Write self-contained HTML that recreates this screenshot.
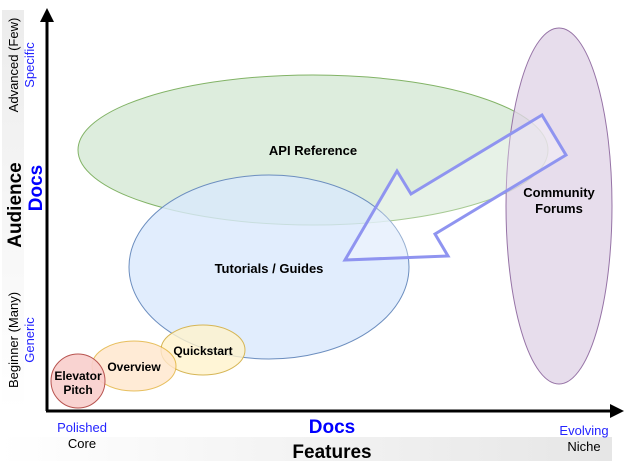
<!DOCTYPE html>
<html><head><style>body{margin:0;background:#fff}svg{display:block}</style></head><body>
<svg width="636" height="466" viewBox="0 0 636 466" font-family="Liberation Sans, Arial, sans-serif">
<defs>
<linearGradient id="gb" x1="0" y1="0" x2="1" y2="0"><stop offset="0" stop-color="#fff"/><stop offset="1" stop-color="#e6e6e6"/></linearGradient>
<linearGradient id="gl" x1="0" y1="0" x2="0" y2="1"><stop offset="0" stop-color="#ececec"/><stop offset="1" stop-color="#fff"/></linearGradient>
</defs>
<rect x="2" y="10" width="22" height="400" fill="url(#gl)"/>
<rect x="0" y="437" width="612" height="24" fill="url(#gb)"/>
<ellipse cx="313" cy="150" rx="235" ry="75" fill="#d5e8d4" fill-opacity="0.8" stroke="#82b366"/>
<ellipse cx="559" cy="206" rx="53" ry="178" fill="#e1d5e7" fill-opacity="0.8" stroke="#9673a6"/>
<ellipse cx="269" cy="267" rx="140" ry="92" fill="#dae8fc" fill-opacity="0.8" stroke="#6c8ebf"/>
<polygon points="345,260 397,171 411,194 542,115 566,155 435,234 448,256" fill="#fff" fill-opacity="0.3" stroke="#8f94f0" stroke-width="3" stroke-linejoin="miter"/>
<ellipse cx="203" cy="350" rx="42" ry="25" fill="#fff2cc" fill-opacity="0.8" stroke="#d6b656"/>
<ellipse cx="134" cy="366" rx="42" ry="25" fill="#ffe6cc" fill-opacity="0.8" stroke="#d79b00" stroke-opacity="0.6"/>
<circle cx="78" cy="381" r="27" fill="#f8cecc" fill-opacity="0.9" stroke="#b85450"/>
<g font-weight="bold" font-size="13" text-anchor="middle" fill="#000">
<text x="313" y="155">API Reference</text>
<text x="269" y="273">Tutorials / Guides</text>
<text x="559" y="197">Community</text><text x="559" y="213">Forums</text>
<text x="203" y="355" font-size="12">Quickstart</text>
<text x="134" y="371" font-size="12">Overview</text>
<text x="78" y="380" font-size="12">Elevator</text><text x="78" y="394" font-size="12">Pitch</text>
</g>
<line x1="47" y1="411" x2="47" y2="20" stroke="#000" stroke-width="3"/>
<polygon points="47,8 40,22 54,22" fill="#000"/>
<line x1="46" y1="411" x2="612" y2="411" stroke="#000" stroke-width="3"/>
<polygon points="624,411 610,404 610,418" fill="#000"/>
<g text-anchor="middle" font-size="13">
<text x="82" y="432" fill="#2424ff">Polished</text>
<text x="82" y="448">Core</text>
<text x="584" y="435" fill="#2424ff">Evolving</text>
<text x="584" y="451">Niche</text>
<text x="332" y="433" fill="#0000ff" font-weight="bold" font-size="19">Docs</text>
<text x="332" y="458" font-weight="bold" font-size="19">Features</text>
<g transform="translate(18,65) rotate(-90)"><text>Advanced (Few)</text></g>
<g transform="translate(34,65) rotate(-90)"><text fill="#2424ff">Specific</text></g>
<g transform="translate(18,340) rotate(-90)"><text>Beginner (Many)</text></g>
<g transform="translate(34,340) rotate(-90)"><text fill="#2424ff">Generic</text></g>
<g transform="translate(21,205) rotate(-90)"><text font-weight="bold" font-size="19">Audience</text></g>
<g transform="translate(42,188) rotate(-90)"><text font-weight="bold" font-size="19" fill="#0000ff">Docs</text></g>
</g>
</svg>
</body></html>
